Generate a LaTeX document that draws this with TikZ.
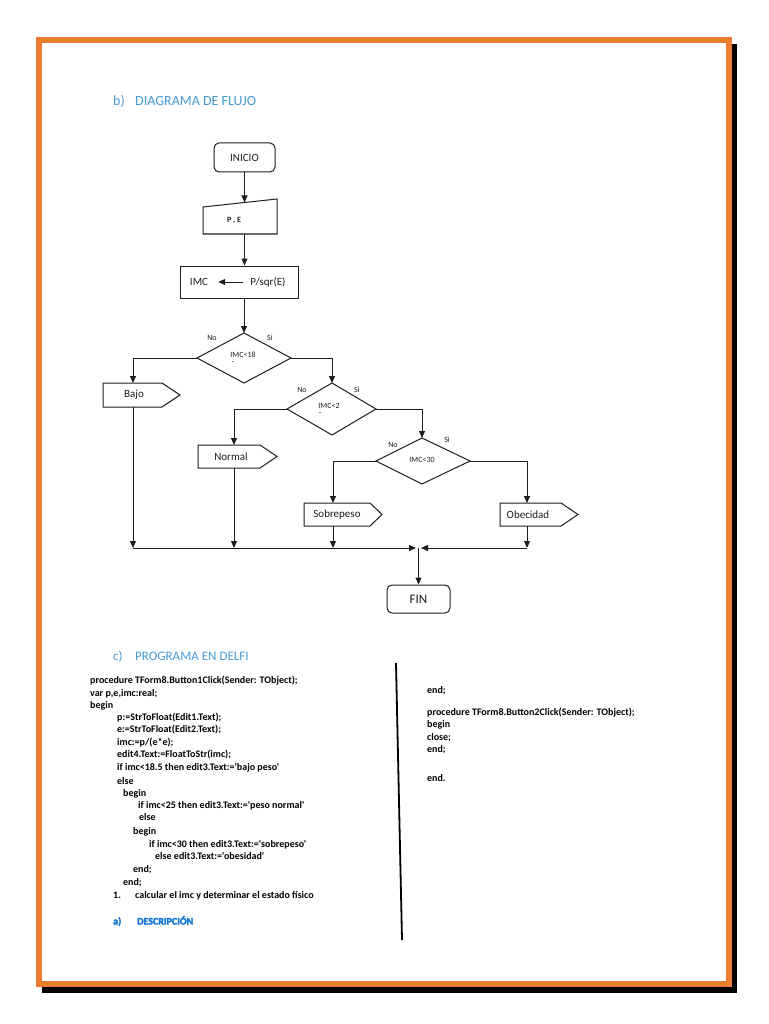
\documentclass[tikz,border=0pt]{standalone}
\usepackage{fontspec}
\setmainfont{Carlito}[Ligatures=TeXOff]
\newfontfamily\heavyfont{Carlito}[Ligatures=TeXOff, BoldFeatures={FakeBold=2.5}]
\usetikzlibrary{arrows.meta}
\definecolor{frameorange}{RGB}{237,125,49}
\definecolor{headblue}{RGB}{70,155,212}
\definecolor{descblue}{RGB}{15,115,215}
\definecolor{ink}{RGB}{30,30,30}
\tikzset{
  flow/.style={draw=ink, line width=1pt},
  arr/.style={flow, -{Triangle[length=7pt,width=6pt]}},
  lbl/.style={font=\fontsize{11}{13}\selectfont, text=ink, inner sep=0pt},
  tinylbl/.style={font=\fontsize{8}{9}\selectfont, text=ink, inner sep=0pt},
  codeline/.style={anchor=base west, inner sep=0pt, font=\fontsize{10}{12}\selectfont\bfseries, text=black},
  heading/.style={anchor=base west, inner sep=0pt, font=\fontsize{14}{16}\selectfont, text=headblue},
  termbox/.style={draw=ink, line width=1pt, rounded corners=5pt, inner sep=0pt, text=ink}
}
\begin{document}
\begin{tikzpicture}[x=1pt,y=-1pt]
\useasboundingbox (0,0) rectangle (768,1024);
\fill[white] (0,0) rectangle (768,1024);
% page frame with shadow
\fill[black] (42,44) rectangle (737,993);
\fill[white] (36,37) rectangle (732,987);
\draw[frameorange, line width=6pt] (39,40) rectangle (729.3,984.3);

% heading b
\node[heading] (hb) at (113,106) {b)};
\node[heading] (hbt) at (135,106) {DIAGRAMA DE FLUJO};

% INICIO
\node[termbox, minimum width=61pt, minimum height=29pt, font=\fontsize{11}{13}\selectfont] (inicio) at (244.5,157.5) {INICIO};
% manual input P , E
\coordinate (pein) at (244.5,202.5);
\coordinate (peout) at (244.5,234);
\draw[flow] (203,207) -- (277,199) -- (277,234) -- (203,234) -- cycle;
\node[tinylbl, font=\fontsize{8}{9}\selectfont\bfseries] (pe) at (234,220) {P , E};
\draw[arr] (inicio.south) -- (pein);
% process box
\node[draw=ink, line width=1pt, minimum width=118pt, minimum height=32pt, inner sep=0pt] (proc) at (239,282) {};
\draw[arr] (peout) -- (peout |- proc.north);
\node[lbl] (imc) at (199,282) {IMC};
\node[lbl] (psq) at (268,282) {P/sqr(E)};
\draw[arr] ([xshift=-7pt]psq.west) -- ([xshift=10pt]imc.east);

% diamond 1
\coordinate (d1t) at (244,333); \coordinate (d1l) at (197,358);
\coordinate (d1r) at (291,358); \coordinate (d1b) at (244,383);
\draw[flow] (d1t) -- (d1r) -- (d1b) -- (d1l) -- cycle;
\draw[arr] (proc.south -| d1t) -- (d1t);
\node[tinylbl] (d1txt) at (243,355) {IMC<18};
\node[tinylbl] (d1dash) at (233,363) {-};
\node[tinylbl] (d1no) at (212,338) {No};
\node[tinylbl] (d1si) at (270,338) {Si};

% Bajo
\coordinate (bajot) at (133,383); \coordinate (bajob) at (133,407);
\draw[flow] (103,383) -- (162,383) -- (180,395) -- (162,407) -- (103,407) -- cycle;
\node[lbl] (bajo) at (134,395) {Bajo};
\draw[arr] (d1l) -| (bajot);

% diamond 2
\coordinate (d2t) at (332,383); \coordinate (d2l) at (287,409);
\coordinate (d2r) at (376,409); \coordinate (d2b) at (332,435);
\draw[flow] (d2t) -- (d2r) -- (d2b) -- (d2l) -- cycle;
\draw[arr] (d1r) -| (d2t);
\node[tinylbl] (d2txt) at (329,406) {IMC<2};
\node[tinylbl] (d2dash) at (320,414) {-};
\node[tinylbl] (d2no) at (302,390) {No};
\node[tinylbl] (d2si) at (357,390) {Si};

% Normal
\coordinate (normt) at (234,445); \coordinate (normb) at (234,468);
\draw[flow] (198,445) -- (260,445) -- (277,456.5) -- (260,468) -- (198,468) -- cycle;
\node[lbl] (normal) at (231,457) {Normal};
\draw[arr] (d2l) -| (normt);

% diamond 3
\coordinate (d3t) at (422,438); \coordinate (d3l) at (376,461);
\coordinate (d3r) at (470,461); \coordinate (d3b) at (422,484);
\draw[flow] (d3t) -- (d3r) -- (d3b) -- (d3l) -- cycle;
\draw[arr] (d2r) -| (d3t);
\node[tinylbl] (d3txt) at (422,460) {IMC<30};
\node[tinylbl] (d3no) at (393,445) {No};
\node[tinylbl] (d3si) at (447,440) {Si};

% Sobrepeso
\coordinate (sobt) at (333,503); \coordinate (sobb) at (333,526);
\draw[flow] (304,503) -- (370,503) -- (382,514.5) -- (370,526) -- (304,526) -- cycle;
\node[lbl] (sobre) at (337,514.5) {Sobrepeso};
\draw[arr] (d3l) -| (sobt);

% Obecidad
\coordinate (obet) at (527,503); \coordinate (obeb) at (527,526);
\draw[flow] (500,503) -- (561,503) -- (578,514.5) -- (561,526) -- (500,526) -- cycle;
\node[lbl] (obe) at (528,514.5) {Obecidad};
\draw[arr] (d3r) -| (obet);

% collector
\coordinate (cl) at (133,548); \coordinate (cr) at (527,548);
\coordinate (cjl) at (416,548); \coordinate (cjr) at (421,548);
\coordinate (cj) at (418.5,548);
\draw[arr] (bajob) -- (cl);
\draw[arr] (normb) -- (normb |- cl);
\draw[arr] (sobb) -- (sobb |- cl);
\draw[arr] (obeb) -- (cr);
\draw[arr] (cl) -- (cjl);
\draw[arr] (cr) -- (cjr);
\node[termbox, minimum width=63pt, minimum height=28pt, font=\fontsize{13}{15}\selectfont] (fin) at (418.5,599) {FIN};
\draw[arr] (cj) -- (fin.north);

% heading c
\node[heading, font=\fontsize{13}{15}\selectfont] (hc) at (113,660) {c)};
\node[heading, font=\fontsize{13}{15}\selectfont] (hct) at (135,660) {PROGRAMA EN DELFI};

% separator
\draw[black, line width=1.8pt] (396,663) -- (402,940);

% code left
\node[codeline] (l1) at (90,683.5) {procedure TForm8.Button1Click(Sender: TObject);};
\node[codeline] (l2) at (90,696.5) {var p,e,imc:real;};
\node[codeline] (l3) at (90,708.5) {begin};
\node[codeline] (l4) at (117,720.5) {p:=StrToFloat(Edit1.Text);};
\node[codeline] (l5) at (117,732.5) {e:=StrToFloat(Edit2.Text);};
\node[codeline] (l6) at (117,745.5) {imc:=p/(e*e);};
\node[codeline] (l7) at (117,757.5) {edit4.Text:=FloatToStr(imc);};
\node[codeline] (l8) at (117,770.5) {if imc<18.5 then edit3.Text:='bajo peso'};
\node[codeline] (l9) at (117,784) {else};
\node[codeline] (l10) at (123,796.5) {begin};
\node[codeline] (l11) at (138,808.5) {if imc<25 then edit3.Text:='peso normal'};
\node[codeline] (l12) at (139,820.5) {else};
\node[codeline] (l13) at (133,834.5) {begin};
\node[codeline] (l14) at (149,847.5) {if imc<30 then edit3.Text:='sobrepeso'};
\node[codeline] (l15) at (155,859.5) {else edit3.Text:='obesidad'};
\node[codeline] (l16) at (133,872.5) {end;};
\node[codeline] (l17) at (123,885.5) {end;};
\node[codeline] (l18) at (113,898.5) {1.};
\node[codeline] (l18b) at (135,898.5) {calcular el imc y determinar el estado físico};
\node[codeline, text=descblue, font=\heavyfont\fontsize{10}{12}\selectfont\bfseries] (l19) at (113,924.5) {a)};
\node[codeline, text=descblue, font=\heavyfont\fontsize{10}{12}\selectfont\bfseries] (l19b) at (137,924.5) {DESCRIPCIÓN};

% code right
\node[codeline] (r1) at (427,693.5) {end;};
\node[codeline] (r2) at (427,715.5) {procedure TForm8.Button2Click(Sender: TObject);};
\node[codeline] (r3) at (427,727.5) {begin};
\node[codeline] (r4) at (427,740) {close;};
\node[codeline] (r5) at (427,752.5) {end;};
\node[codeline] (r6) at (427,781.5) {end.};
\end{tikzpicture}
\end{document}
